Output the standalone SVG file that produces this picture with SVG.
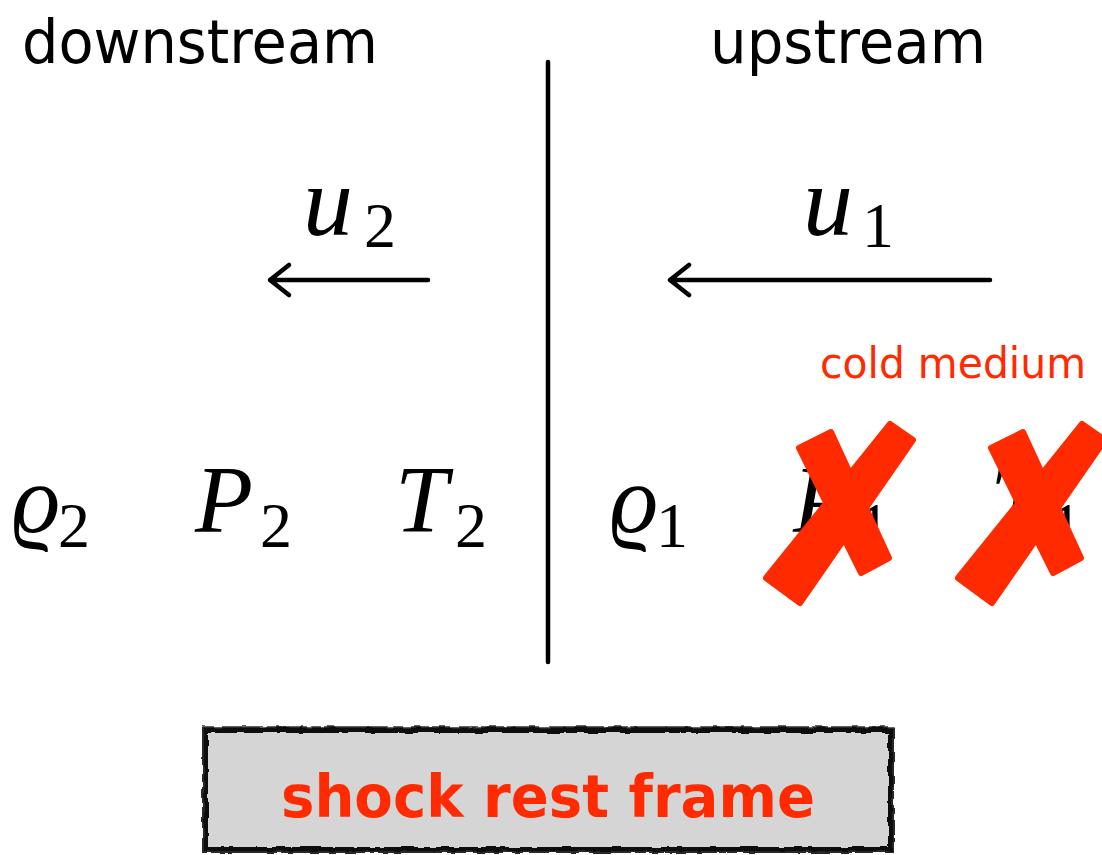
<svg xmlns="http://www.w3.org/2000/svg" width="1102" height="855" viewBox="0 0 1102 855">
<style>
.lbl{font-family:"DejaVu Sans","Liberation Sans",sans-serif;fill:#000}
.math{font-family:"Liberation Serif","DejaVu Serif",serif;font-style:italic;fill:#000}
.sub{font-family:"Liberation Serif","DejaVu Serif",serif;font-style:normal;fill:#000}
.red{fill:#ff2a00}
.ln{stroke:#000;stroke-width:4.5;fill:none;stroke-linecap:round;stroke-linejoin:round}
.x{fill:#ff2a00;stroke:#ff2a00;stroke-width:6;stroke-linejoin:round}
</style>
<defs>
<filter id="rough" x="-5%" y="-20%" width="110%" height="140%">
<feTurbulence type="fractalNoise" baseFrequency="0.08" numOctaves="2" seed="3"/>
<feDisplacementMap in="SourceGraphic" scale="4"/>
</filter>
<g id="cross">
<polygon class="x" points="831,432 799,448 861,573 889,558"/>
<polygon class="x" points="800,603 766,578 890,424 913,440"/>
</g>
</defs>
<g id="labels">
<text class="lbl" x="22" y="63" font-size="60" textLength="356" lengthAdjust="spacingAndGlyphs">downstream</text>
<text class="lbl" x="710" y="63" font-size="60" textLength="276" lengthAdjust="spacingAndGlyphs">upstream</text>
</g>
<g id="shock">
<line class="ln" x1="548" y1="62" x2="548" y2="662" stroke-linecap="butt"/>
</g>
<g id="connectors">
<path class="ln" d="M428 280 H270 M289 265 L270 280 L289 295"/>
<path class="ln" d="M990 280 H670 M689 265 L670 280 L689 295"/>
</g>
<g id="u2"><text class="math" x="303" y="235" font-size="100">u</text><text class="sub" x="364" y="247" font-size="64">2</text></g>
<g id="u1"><text class="math" x="803" y="235" font-size="100">u</text><text class="sub" x="862" y="247" font-size="64">1</text></g>
<g id="downstream-vars">
<text class="math" x="12" y="532" font-size="95">ϱ</text><text class="sub" x="58" y="547" font-size="64">2</text>
<text class="math" x="195" y="532" font-size="95">P</text><text class="sub" x="260" y="547" font-size="64">2</text>
<text class="math" x="395" y="532" font-size="95">T</text><text class="sub" x="455" y="547" font-size="64">2</text>
</g>
<g id="upstream-vars">
<text class="math" x="610" y="532" font-size="95">ϱ</text><text class="sub" x="656" y="547" font-size="64">1</text>
<text class="math" x="793" y="532" font-size="95">P</text><text class="sub" x="858" y="547" font-size="64">1</text>
<text class="math" x="990" y="532" font-size="95">T</text><text class="sub" x="1050" y="547" font-size="64">1</text>
</g>
<g id="cold-medium">
<text class="lbl red" x="820" y="378" font-size="43" textLength="266" lengthAdjust="spacingAndGlyphs">cold medium</text>
<use href="#cross"/>
<use href="#cross" transform="translate(192,0)"/>
</g>
<g id="frame">
<rect x="205" y="730" width="686" height="120" fill="#d5d5d5"/>
<rect x="205" y="730" width="686" height="120" fill="none" stroke="#111" stroke-width="6" filter="url(#rough)"/>
<rect x="203" y="727" width="690" height="125" fill="none" stroke="#333" stroke-width="1.5" filter="url(#rough)"/>
<text class="lbl red" x="281" y="817" font-size="58" font-weight="bold" textLength="534" lengthAdjust="spacingAndGlyphs">shock rest frame</text>
</g>
</svg>
